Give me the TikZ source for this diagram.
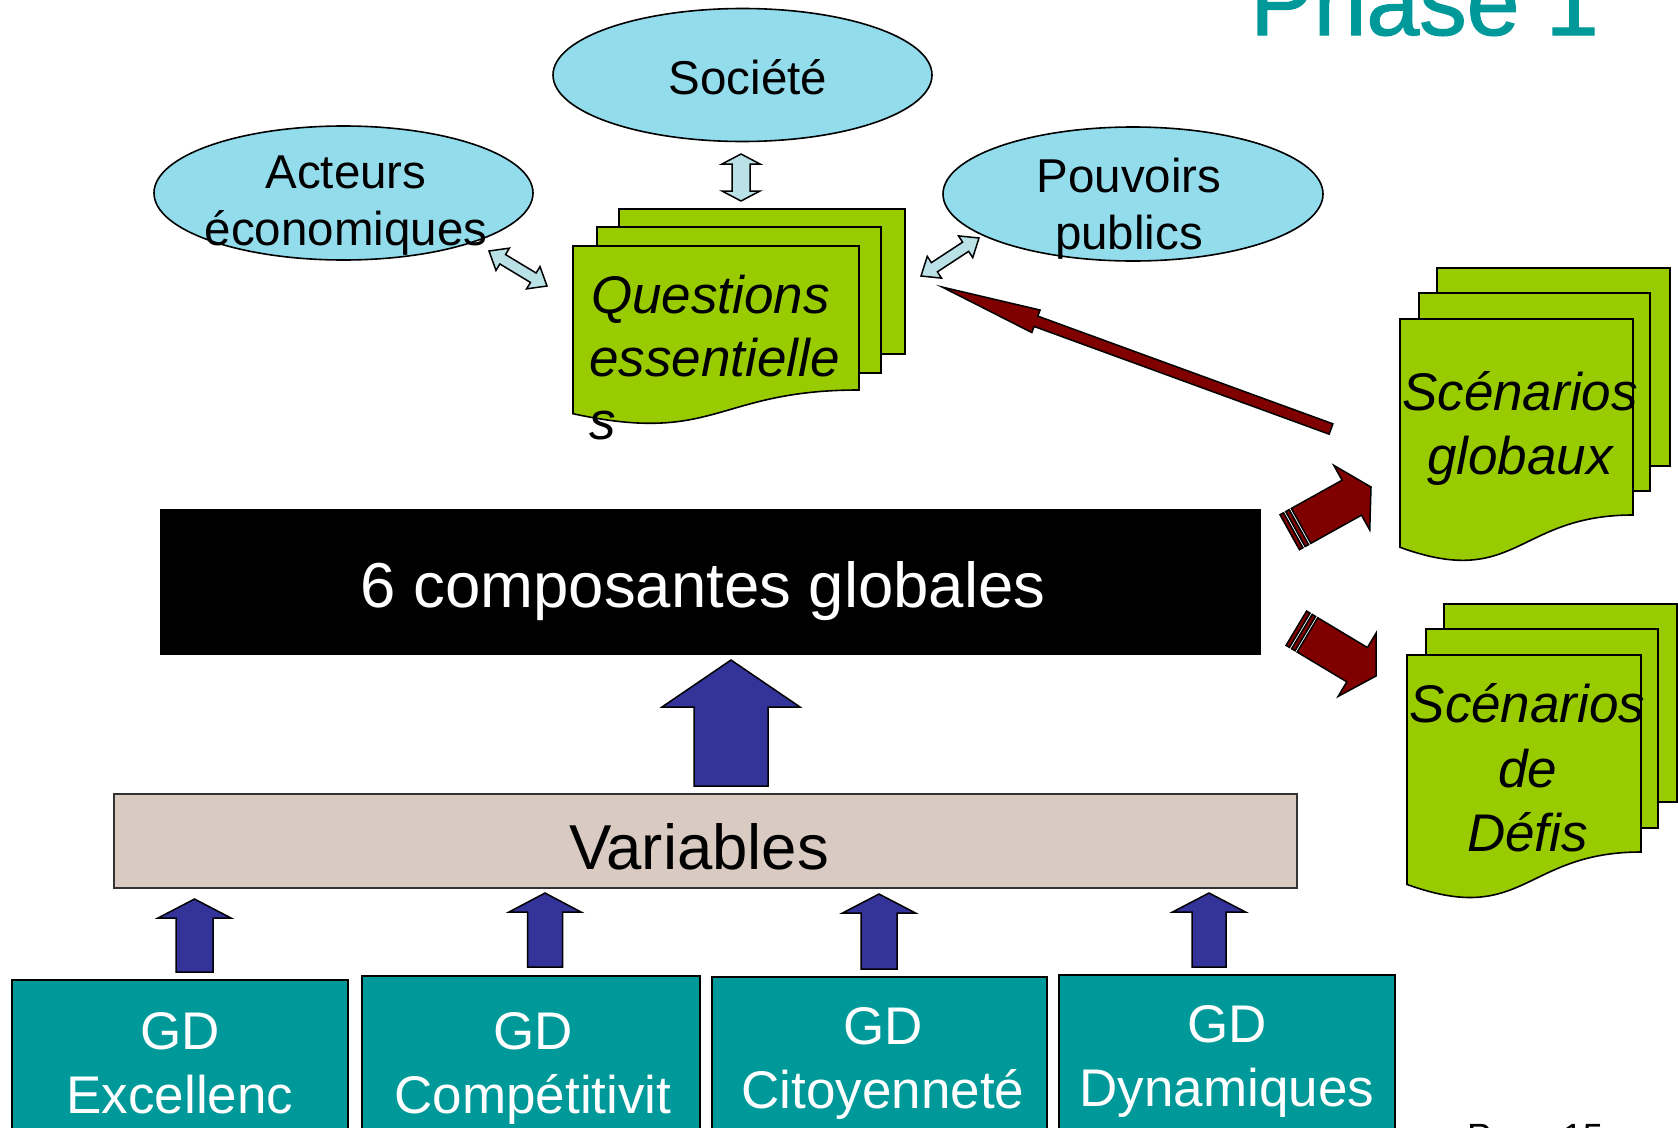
\documentclass[tikz,border=0pt]{standalone}
\usepackage{fontspec}
\setmainfont{Liberation Sans}
\newfontfamily\titlefont[AutoFakeBold=1.3]{Liberation Sans}
\usetikzlibrary{calc,shapes.geometric}
\definecolor{ellblue}{HTML}{92DCEC}
\definecolor{docgreen}{HTML}{99CC00}
\definecolor{arrred}{HTML}{800000}
\definecolor{arrblue}{HTML}{333399}
\definecolor{varfill}{HTML}{D9CBC1}
\definecolor{gdteal}{HTML}{009999}
\definecolor{dblblue}{HTML}{B9E1E6}
% block arrow: tail, tip, shaft half width, head half width, head length, style
\newcommand\blockarrow[6]{%
  \coordinate (ba-h) at ($(#2)!#5!(#1)$);
  \draw[#6] ($(#1)!#3!90:(#2)$) -- ($(ba-h)!#3!90:(#2)$) -- ($(ba-h)!#4!90:(#2)$) -- (#2)
    -- ($(ba-h)!#4!-90:(#2)$) -- ($(ba-h)!#3!-90:(#2)$) -- ($(#1)!#3!-90:(#2)$) -- cycle;
}
% double arrow: tip1, tip2, shaft half width, head half width, head length, style
\newcommand\dblarrow[6]{%
  \coordinate (da-a) at ($(#1)!#5!(#2)$);
  \coordinate (da-b) at ($(#2)!#5!(#1)$);
  \draw[#6] (#1) -- ($(da-a)!#4!90:(#2)$) -- ($(da-a)!#3!90:(#2)$) -- ($(da-b)!#3!90:(#2)$)
    -- ($(da-b)!#4!90:(#2)$) -- (#2) -- ($(da-b)!#4!-90:(#2)$) -- ($(da-b)!#3!-90:(#2)$)
    -- ($(da-a)!#3!-90:(#2)$) -- ($(da-a)!#4!-90:(#2)$) -- cycle;
}
% strip of a striped arrow: start, end, toward, half width, style
\newcommand\stripe[5]{%
  \draw[#5] ($(#1)!#4!90:(#3)$) -- ($(#2)!#4!90:(#3)$) -- ($(#2)!#4!-90:(#3)$) -- ($(#1)!#4!-90:(#3)$) -- cycle;
}
% striped arrow: tail, tip, shaft hw, head hw, head length, style
\newcommand\stripedarrow[6]{%
  \coordinate (sa-a) at ($(#1)!4pt!(#2)$);
  \coordinate (sa-b) at ($(#1)!6.5pt!(#2)$);
  \coordinate (sa-c) at ($(#1)!10.5pt!(#2)$);
  \coordinate (sa-d) at ($(#1)!13pt!(#2)$);
  \stripe{#1}{sa-a}{#2}{#3}{#6}
  \stripe{sa-b}{sa-c}{#2}{#3}{#6}
  \blockarrow{sa-d}{#2}{#3}{#4}{#5}{#6}
}
\begin{document}
\begin{tikzpicture}[x=1pt,y=-1pt,
  ellnode/.style={ellipse, draw=black, line width=1.6pt, fill=ellblue, inner sep=0pt},
  elltext/.style={anchor=base, inner sep=0pt, font=\fontsize{47.5}{57}\selectfont},
  docstyle/.style={fill=docgreen, draw=black, line width=1.6pt},
  doctext/.style={inner sep=0pt, font=\fontsize{53}{64}\selectfont\itshape},
  bigtext/.style={anchor=base, inner sep=0pt, font=\fontsize{63.5}{76}\selectfont},
  gdbox/.style={fill=gdteal, draw=black, line width=1.6pt, anchor=north west, inner sep=0pt, minimum height=220pt},
  gdtext/.style={anchor=base, inner sep=0pt, text=white, font=\fontsize{53}{64}\selectfont},
  bluearr/.style={fill=arrblue, draw=black, line width=1.5pt, line join=miter},
  redarr/.style={fill=arrred, draw=black, line width=1.5pt, line join=miter},
  lbarr/.style={fill=dblblue, draw=black, line width=1.5pt, line join=miter}]
\useasboundingbox (0,0) rectangle (1678,1127);
\clip (0,0) rectangle (1678,1127);

% title and page number
\node[anchor=base west, inner sep=0pt, text=gdteal, font=\titlefont\bfseries\fontsize{95}{114}\selectfont] (title) at (1250,35) {Phase 1};
\node[anchor=base west, inner sep=0pt, font=\fontsize{36.5}{44}\selectfont] (page) at (1467,1149) {Page 15};

% ellipses
\node[ellnode, minimum width=379pt, minimum height=133pt] (soc) at (742.5,75) {};
\node[elltext] (soct) at (748,94) {Société};
\node[ellnode, minimum width=379pt, minimum height=134pt] (act) at (343.5,193) {};
\node[elltext] (actt1) at (346,188) {Acteurs};
\node[elltext] (actt2) at (346,245) {économiques};
\node[ellnode, minimum width=380pt, minimum height=134pt] (pouv) at (1133,194) {};
\node[elltext] (pouvt1) at (1129,192) {Pouvoirs};
\node[elltext] (pouvt2) at (1129,249) {publics};

% Questions essentielles
\draw[docstyle] (619,209) rectangle (905,354);
\draw[docstyle] (597,227) rectangle (881,373);
\draw[docstyle] (573,246) -- (859,246) -- (859,390) .. controls (716,390) and (716,444.9) .. (573,413.7) -- cycle;
\node[doctext, anchor=base west] (q1) at (591,313.6) {Questions};
\node[doctext, anchor=base west] (q2) at (589,376.7) {essentielle};
\node[doctext, anchor=base west] (q3) at (589,439) {s};

% Scenarios globaux
\draw[docstyle] (1437,268) rectangle (1670,466);
\draw[docstyle] (1419,293) rectangle (1650,491);
\draw[docstyle] (1400,319) -- (1633,319) -- (1633,515) .. controls (1516.5,515) and (1516.5,589.7) .. (1400,547.3) -- cycle;
\node[doctext, anchor=base] (sg1) at (1520,410) {Scénarios};
\node[doctext, anchor=base] (sg2) at (1520,474) {globaux};

% Scenarios de Defis
\draw[docstyle] (1444,604) rectangle (1677,802);
\draw[docstyle] (1426,629) rectangle (1658,828);
\draw[docstyle] (1407,655) -- (1641,655) -- (1641,852) .. controls (1524,852) and (1524,927) .. (1407,884.4) -- cycle;
\node[doctext, anchor=base] (sd1) at (1527.5,722) {Scénarios};
\node[doctext, anchor=base] (sd2) at (1527.5,787) {de};
\node[doctext, anchor=base] (sd3) at (1527.5,851) {Défis};

% 6 composantes globales
\node[fill=black, inner sep=0pt, anchor=north west, minimum width=1101pt, minimum height=146pt] (comp) at (160,509) {};
\node[bigtext, text=white] (compt) at (703,607) {6 composantes globales};

% Variables
\node[fill=varfill, draw=black!80, line width=1.5pt, inner sep=0pt, anchor=north west, minimum width=1183pt, minimum height=94pt] (var) at (113,793) {};
\node[bigtext] (vart) at (699,869.5) {Variables};

% GD boxes
\node[gdbox, minimum width=336pt] (gd1) at (11,979) {};
\node[gdbox, minimum width=338pt] (gd2) at (361,975) {};
\node[gdbox, minimum width=335pt] (gd3) at (711,976) {};
\node[gdbox, minimum width=336pt] (gd4) at (1058,974) {};
\node[gdtext] (gd1a) at (180,1049) {GD};
\node[gdtext] (gd1b) at (180,1113) {Excellenc};
\node[gdtext] (gd2a) at (533,1049) {GD};
\node[gdtext] (gd2b) at (533,1113) {Compétitivit};
\node[gdtext] (gd3a) at (883,1044) {GD};
\node[gdtext] (gd3b) at (883,1108) {Citoyenneté};
\node[gdtext] (gd4a) at (1227,1042) {GD};
\node[gdtext] (gd4b) at (1227,1106) {Dynamiques};

% arrow end points
\coordinate (bigT) at (731,786);   \coordinate (bigH) at (731,660);
\coordinate (s1T) at (194.5,972);  \coordinate (s1H) at (194.5,899);
\coordinate (s2T) at (545,967);    \coordinate (s2H) at (545,893);
\coordinate (s3T) at (879,969);    \coordinate (s3H) at (879,894);
\coordinate (s4T) at (1209,967);   \coordinate (s4H) at (1209,893);
\coordinate (socA) at (741,154);   \coordinate (socB) at (741,201);
\coordinate (actA) at (489,251);   \coordinate (actB) at (547,286);
\coordinate (pouA) at (921,276);   \coordinate (pouB) at (979,238);
\coordinate (lrT) at (1331,429);   \coordinate (lrH) at (942,287);
\coordinate (st1T) at (1289.7,532.2); \coordinate (st1H) at (1371,487);
\coordinate (st2T) at (1296.3,628.2); \coordinate (st2H) at (1376,676);

% blue arrows
\blockarrow{bigT}{bigH}{37pt}{69pt}{47pt}{bluearr}
\blockarrow{s1T}{s1H}{18.5pt}{36.5pt}{19pt}{bluearr}
\blockarrow{s2T}{s2H}{17.5pt}{36pt}{19pt}{bluearr}
\blockarrow{s3T}{s3H}{18pt}{36.5pt}{19pt}{bluearr}
\blockarrow{s4T}{s4H}{17pt}{36.5pt}{19pt}{bluearr}

% light blue double arrows
\dblarrow{socA}{socB}{9pt}{19pt}{10pt}{lbarr}
\dblarrow{actA}{actB}{5.5pt}{13pt}{16pt}{lbarr}
\dblarrow{pouA}{pouB}{5.5pt}{13pt}{16pt}{lbarr}

% red arrows
\blockarrow{lrT}{lrH}{5.5pt}{12pt}{100pt}{redarr}
\stripedarrow{st1T}{st1H}{20pt}{37pt}{22pt}{redarr}
\stripedarrow{st2T}{st2H}{20pt}{37pt}{22pt}{redarr}
\end{tikzpicture}
\end{document}
